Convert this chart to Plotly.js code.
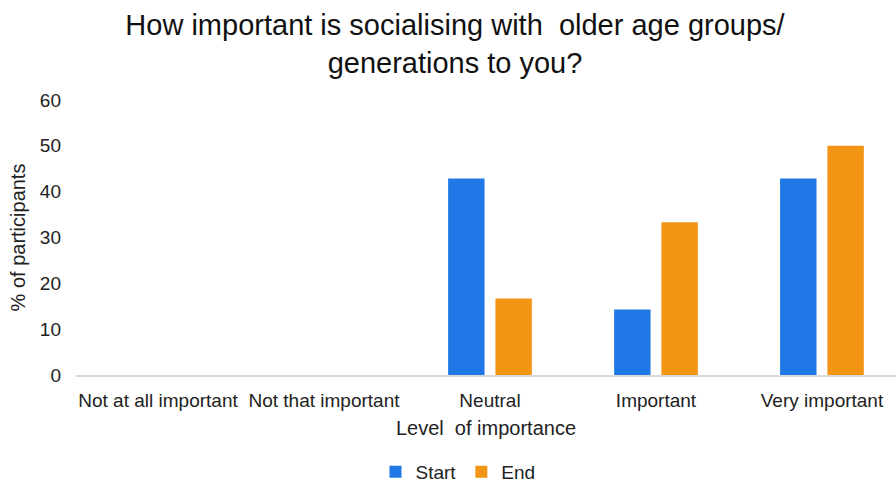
<!DOCTYPE html>
<html><head><meta charset="utf-8">
<script src="https://cdn.plot.ly/plotly-3.0.1.min.js"></script>
<style>html,body{margin:0;padding:0;background:#fff}#chart{width:896px;height:491px}</style>
</head><body><div id="chart"></div>
<script>
const categories = ["Not at all important", "Not that important", "Neutral", "Important", "Very important"];
const startValues = [0, 0, 42.86, 14.29, 42.86];
const endValues = [0, 0, 16.67, 33.33, 50];
const yTicks = [0, 10, 20, 30, 40, 50, 60];

const font = "Liberation Sans, Arial, sans-serif";
const data = [
  {type: "bar", name: "Start", x: categories, y: startValues, marker: {color: "#1f78e6"}, hoverinfo: "none"},
  {type: "bar", name: "End", x: categories, y: endValues, marker: {color: "#f29514"}, hoverinfo: "none"}
];
const layout = {
  width: 896, height: 491,
  margin: {l: 76, r: 0, t: 100, b: 116, pad: 0},
  paper_bgcolor: "#fff", plot_bgcolor: "#fff",
  font: {family: font, size: 19, color: "#222"},
  title: {text: "How important is socialising with  older age groups/<br>generations to you?",
          font: {family: font, size: 29, color: "#111"},
          x: 455/896, xref: "container", xanchor: "center", y: 1-(35/491), yref: "container", yanchor: "top"},
  barmode: "group", bargap: 0.43, bargroupgap: 0.23,
  showlegend: true,
  legend: {orientation: "h", x: 458/896, xanchor: "center", xref: "container", y: 0, yanchor: "bottom", yref: "container",
           font: {family: font, size: 19, color: "#222"}, itemwidth: 30, traceorder: "normal"},
  xaxis: {type: "category", range: [-0.494, 4.446], showgrid: false, showline: true, linecolor: "#d9d9d9", linewidth: 1.5, zeroline: false,
          ticks: "", ticklabelstandoff: 8, tickfont: {family: font, size: 19, color: "#222"},
          title: {text: "Level  of importance", font: {family: font, size: 20, color: "#222"}, standoff: 10}},
  yaxis: {range: [0, 60], tickvals: yTicks, showgrid: false, zeroline: false, showline: false, ticks: "",
          ticklabelstandoff: 14, tickfont: {family: font, size: 19, color: "#222"},
          title: {text: "% of participants", font: {family: font, size: 20, color: "#222"}, standoff: 8}}
};
Plotly.newPlot("chart", data, layout, {staticPlot: true, displayModeBar: false});
</script></body></html>
